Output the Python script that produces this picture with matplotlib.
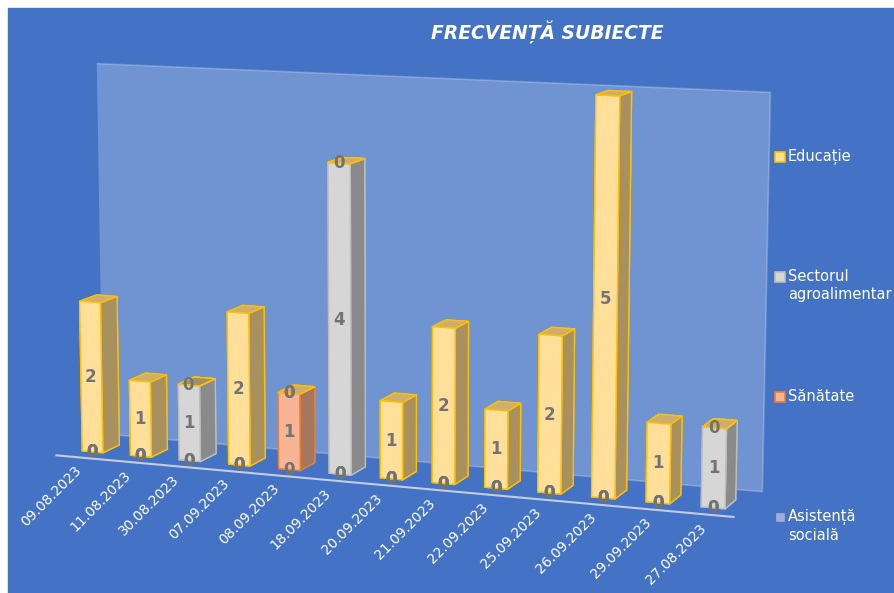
import numpy as np
import matplotlib
matplotlib.use('Agg')
import matplotlib.pyplot as plt
from matplotlib.patches import Rectangle
from mpl_toolkits.mplot3d import proj3d

# chart data (stacked, bottom -> top: Asistenta, Sanatate, Agro, Educatie)
dates = ['09.08.2023', '11.08.2023', '30.08.2023', '07.09.2023', '08.09.2023',
         '18.09.2023', '20.09.2023', '21.09.2023', '22.09.2023', '25.09.2023',
         '26.09.2023', '29.09.2023', '27.08.2023']
educatie = [2, 1, 0, 2, 0, 0, 1, 2, 1, 2, 5, 1, 0]
agroalimentar = [0, 0, 1, 0, 0, 4, 0, 0, 0, 0, 0, 0, 1]
sanatate = [0, 0, 0, 0, 1, 0, 0, 0, 0, 0, 0, 0, 0]
asistenta = [0, 0, 0, 0, 0, 0, 0, 0, 0, 0, 0, 0, 0]

legend_names = ['Educație', 'Sectorul\nagroalimentar', 'Sănătate', 'Asistență\nsocială']

BG = '#4472C4'
# (front, side, top, edge) for each series
style_edu = ('#FFDF99', '#A8915F', '#CDAE6C', '#FFC000')
style_agro = ('#D6D6D6', '#8A8A8A', '#B8B8B8', '#BDBDBD')
style_san = ('#F7B596', '#A6765E', '#C98E70', '#ED7D31')
style_asis = ('#A3ACD8', '#7F88B5', '#9099C6', '#A3ACD8')

stack = [(asistenta, style_asis), (sanatate, style_san),
         (agroalimentar, style_agro), (educatie, style_edu)]

fig = plt.figure(figsize=(8.94, 5.93), dpi=100, facecolor='white')
fig.add_artist(Rectangle((8 / 894, 0), 1, 1 - 8 / 593, transform=fig.transFigure,
                         color=BG, zorder=-10))

ax = fig.add_axes([0.0095, 0.014, 0.86, 1.0], projection='3d')
ax.set_facecolor('none')
ax.set_proj_type('persp', focal_length=1.0)
ax.view_init(elev=10, azim=-69)

n = len(dates)
bar_w, bar_d = 0.43, 0.7
y_front, depth = 0.5, 1.95
ax.set_xlim(-0.5, n - 0.5)
ax.set_ylim(0, depth)
ax.set_zlim(0, 5)
ax.set_box_aspect((715, 55 * depth, 392), zoom=1.36)

# collect all bar segments into one bar3d call so depth sorting works
xs, zs, dzs, fcols, ecols = [], [], [], [], []
bottom = np.zeros(n)
labels = []
for k, (vals, st) in enumerate(stack):
    is_top = k == len(stack) - 1
    for i, v in enumerate(vals):
        if v > 0 or (is_top and bottom[i] > 0):
            xs.append(i - bar_w / 2)
            zs.append(bottom[i])
            dzs.append(v)
            front, side, top, edge = st
            # faces: bottom, top, front, back, left, right
            fcols += [side, top, front, side, side, side]
            ecols += [edge] * 6
        labels.append((i, bottom[i] + v / 2, v))
    bottom += np.array(vals)

bars = ax.bar3d(xs, [y_front] * len(xs), zs, bar_w, bar_d, dzs, color=fcols,
                edgecolor=ecols, linewidth=1.0, shade=False)
bars.set_clip_on(False)

# data labels on the front faces (projected to the 2D data space of the axes)
M = ax.get_proj()
for i, z, v in labels:
    px, py, _ = proj3d.proj_transform(i, y_front - 0.02, z, M)
    ax.text2D(px, py, str(v), transform=ax.transData, color='#737373',
              fontsize=12, fontweight='bold', ha='center', va='center',
              zorder=1000, clip_on=False)

# front floor line
floor_line, = ax.plot([-0.5, n - 0.5], [0, 0], [0, 0], color='#C3CCE0', lw=1.5,
                      zorder=50)
floor_line.set_clip_on(False)

# panes: only the back wall is visible
for axis in (ax.xaxis, ax.zaxis):
    axis.set_pane_color((0, 0, 0, 0))
    axis.pane.set_edgecolor((0, 0, 0, 0))
ax.yaxis.set_pane_color((1, 1, 1, 0.24))
ax.yaxis.pane.set_edgecolor((1, 1, 1, 0.85))
ax.yaxis.pane.set_linewidth(1.2)
ax.grid(False)
for axis in (ax.xaxis, ax.yaxis, ax.zaxis):
    axis.line.set_color((0, 0, 0, 0))
ax.set_yticks([])
ax.set_zticks([])
ax.set_xticks(range(n))
ax.set_xticklabels(dates, rotation=45, rotation_mode='anchor', ha='right',
                   va='center', color='white', fontsize=10)
ax.tick_params(axis='x', color=(0, 0, 0, 0), pad=-2)

fig.text(0.612, 1 - 32 / 593, 'FRECVENȚĂ SUBIECTE', color='white', fontsize=13.5,
         fontweight='bold', fontstyle='italic', ha='center', va='center')

# legend, one entry per series
leg_styles = [style_edu, style_agro, style_san, style_asis]
for k, (name, st) in enumerate(zip(legend_names, leg_styles)):
    yc = 157 + k * 120
    size = 10 if k < 3 else 7
    fig.add_artist(Rectangle(((780 - size / 2) / 894, 1 - (yc + size / 2) / 593),
                             size / 894, size / 593, transform=fig.transFigure,
                             facecolor=st[0], edgecolor=st[3], lw=1.2))
    fig.text(788 / 894, 1 - (yc - 8) / 593, name, color='white', fontsize=10.5,
             va='top', ha='left', linespacing=1.25)

fig.savefig('out.png', dpi=100, facecolor=fig.get_facecolor())
